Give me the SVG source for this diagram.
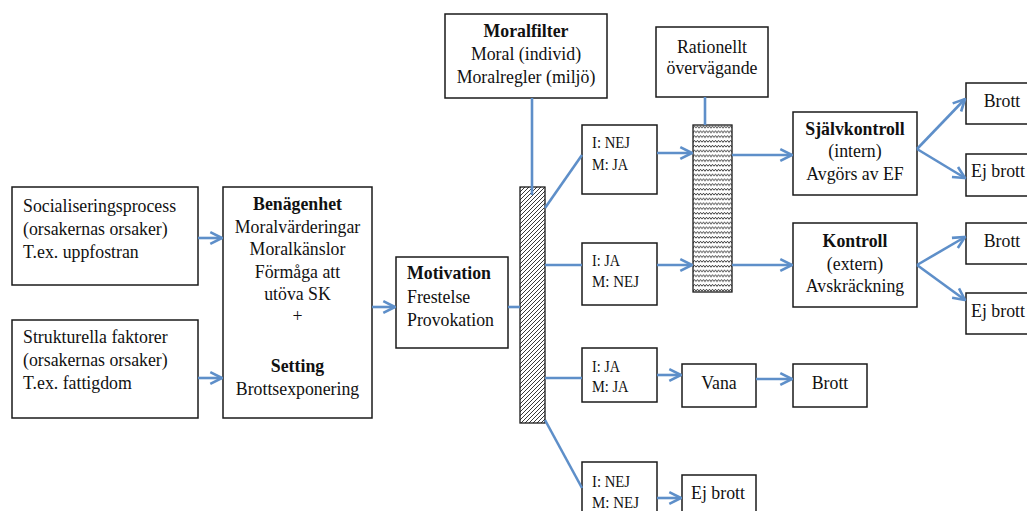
<svg xmlns="http://www.w3.org/2000/svg" width="1027" height="511" viewBox="0 0 1027 511">
<style>
.box{fill:#fff;stroke:#1a1a1a;stroke-width:1.5}
text{font-family:"Liberation Serif","Times New Roman",serif;font-size:17.8px;fill:#111}
.c{text-anchor:middle}
.b{font-weight:bold}
.s{font-size:16.5px}
.con{fill:none;stroke:#5E8FC9;stroke-width:2.6}
.arr{marker-end:url(#ah)}
</style>
<defs>
<marker id="ah" viewBox="0 0 12 12" refX="11" refY="6" markerWidth="6" markerHeight="6" markerUnits="strokeWidth" orient="auto">
<path d="M2,1.5 L11,6 L2,10.5" fill="none" stroke="#5E8FC9" stroke-width="2"/>
</marker>
<pattern id="hatch" patternUnits="userSpaceOnUse" width="4" height="4">
<rect width="4" height="4" fill="#fff"/>
<path d="M-1,1 L1,-1 M0,4 L4,0 M3,5 L5,3" stroke="#222" stroke-width="0.9"/>
</pattern>
<pattern id="zig" patternUnits="userSpaceOnUse" width="6" height="4.8">
<rect width="6" height="4.8" fill="#fff"/>
<path d="M0,3.2 L1.5,1.2 L3,3.2 L4.5,1.2 L6,3.2" fill="none" stroke="#222" stroke-width="0.9"/>
</pattern>
</defs>

<g id="nodes">
<g id="socialisering">
<rect class="box" x="12" y="187" width="186" height="98"/>
<text x="23" y="212">Socialiseringsprocess</text>
<text x="23" y="235">(orsakernas orsaker)</text>
<text x="23" y="258">T.ex. uppfostran</text>
</g>
<g id="strukturella">
<rect class="box" x="12" y="320" width="186" height="98"/>
<text x="23" y="343">Strukturella faktorer</text>
<text x="23" y="366">(orsakernas orsaker)</text>
<text x="23" y="389">T.ex. fattigdom</text>
</g>
<g id="benagenhet">
<rect class="box" x="223" y="187" width="149" height="231"/>
<text class="c b" x="297.5" y="210">Benägenhet</text>
<text class="c" x="297.5" y="233">Moralvärderingar</text>
<text class="c" x="297.5" y="255">Moralkänslor</text>
<text class="c" x="297.5" y="278">Förmåga att</text>
<text class="c" x="297.5" y="300">utöva SK</text>
<text class="c" x="297.5" y="322">+</text>
<text class="c b" x="297.5" y="372">Setting</text>
<text class="c" x="297.5" y="395">Brottsexponering</text>
</g>
<g id="motivation">
<rect class="box" x="396" y="257" width="112" height="91"/>
<text class="b" x="407" y="279">Motivation</text>
<text x="407" y="303">Frestelse</text>
<text x="407" y="326">Provokation</text>
</g>
<g id="moralfilter">
<rect class="box" x="445" y="14" width="162" height="84"/>
<text class="c b" x="526" y="37">Moralfilter</text>
<text class="c" x="526" y="60">Moral (individ)</text>
<text class="c" x="526" y="83">Moralregler (miljö)</text>
</g>
<g id="filterbar">
<rect x="520" y="187" width="25" height="236" fill="url(#hatch)" stroke="#1a1a1a" stroke-width="1.3"/>
</g>
<g id="rationellt">
<rect class="box" x="656" y="27" width="112" height="70"/>
<text class="c" x="712" y="53">Rationellt</text>
<text class="c" x="712" y="74">övervägande</text>
</g>
<g id="rationellbar">
<rect x="693" y="125" width="39" height="167" fill="url(#zig)" stroke="#1a1a1a" stroke-width="1.3"/>
</g>
<g id="nej-ja">
<rect class="box" x="582" y="125" width="75" height="69"/>
<text class="s" x="592" y="148" textLength="38" lengthAdjust="spacingAndGlyphs">I: NEJ</text>
<text class="s" x="592" y="170" textLength="36" lengthAdjust="spacingAndGlyphs">M: JA</text>
</g>
<g id="ja-nej">
<rect class="box" x="582" y="243" width="75" height="62"/>
<text class="s" x="592" y="266" textLength="28" lengthAdjust="spacingAndGlyphs">I: JA</text>
<text class="s" x="592" y="287" textLength="47" lengthAdjust="spacingAndGlyphs">M: NEJ</text>
</g>
<g id="ja-ja">
<rect class="box" x="582" y="348" width="75" height="54"/>
<text class="s" x="592" y="372" textLength="28" lengthAdjust="spacingAndGlyphs">I: JA</text>
<text class="s" x="592" y="392" textLength="36.5" lengthAdjust="spacingAndGlyphs">M: JA</text>
</g>
<g id="nej-nej">
<rect class="box" x="582" y="462" width="75" height="60"/>
<text class="s" x="592" y="487" textLength="38" lengthAdjust="spacingAndGlyphs">I: NEJ</text>
<text class="s" x="592" y="508" textLength="47" lengthAdjust="spacingAndGlyphs">M: NEJ</text>
</g>
<g id="vana">
<rect class="box" x="682" y="364" width="74" height="43"/>
<text class="c" x="719" y="389">Vana</text>
</g>
<g id="brott-vana">
<rect class="box" x="793" y="364" width="74" height="43"/>
<text class="c" x="830" y="389">Brott</text>
</g>
<g id="ejbrott-bottom">
<rect class="box" x="682" y="475" width="74" height="50"/>
<text class="c" x="718" y="499">Ej brott</text>
</g>
<g id="sjalvkontroll">
<rect class="box" x="793" y="112" width="124" height="83"/>
<text class="c b" x="855" y="135">Självkontroll</text>
<text class="c" x="855" y="157">(intern)</text>
<text class="c" x="855" y="180">Avgörs av EF</text>
</g>
<g id="kontroll">
<rect class="box" x="793" y="223" width="124" height="84"/>
<text class="c b" x="855" y="247">Kontroll</text>
<text class="c" x="855" y="270">(extern)</text>
<text class="c" x="855" y="292">Avskräckning</text>
</g>
<g id="brott1">
<rect class="box" x="966" y="83" width="74" height="41"/>
<text class="c" x="1002" y="107">Brott</text>
</g>
<g id="ejbrott1">
<rect class="box" x="966" y="154" width="74" height="42"/>
<text class="c" x="998" y="177">Ej brott</text>
</g>
<g id="brott2">
<rect class="box" x="966" y="223" width="74" height="41"/>
<text class="c" x="1002" y="247">Brott</text>
</g>
<g id="ejbrott2">
<rect class="box" x="966" y="293" width="74" height="41"/>
<text class="c" x="998" y="317">Ej brott</text>
</g>
</g>

<g id="connectors">
<line class="con arr" x1="198" y1="238" x2="222" y2="238"/>
<line class="con arr" x1="198" y1="378" x2="222" y2="378"/>
<line class="con arr" x1="372" y1="307" x2="395" y2="307"/>
<line class="con" x1="508" y1="307" x2="520" y2="307"/>
<line class="con" x1="532" y1="98" x2="532" y2="195"/>
<line class="con" x1="545" y1="208" x2="582" y2="155"/>
<line class="con" x1="545" y1="265" x2="582" y2="265"/>
<line class="con" x1="545" y1="378" x2="582" y2="378"/>
<line class="con" x1="545" y1="420" x2="582" y2="488"/>
<line class="con arr" x1="657" y1="153" x2="692" y2="153"/>
<line class="con arr" x1="657" y1="265" x2="692" y2="265"/>
<line class="con" x1="705" y1="97" x2="705" y2="125"/>
<line class="con arr" x1="732" y1="155" x2="792" y2="155"/>
<line class="con arr" x1="732" y1="265" x2="792" y2="265"/>
<line class="con arr" x1="917" y1="149" x2="965" y2="99"/>
<line class="con arr" x1="917" y1="149" x2="965" y2="178"/>
<line class="con arr" x1="917" y1="265" x2="965" y2="237"/>
<line class="con arr" x1="917" y1="265" x2="965" y2="300"/>
<line class="con arr" x1="657" y1="375" x2="681" y2="375"/>
<line class="con arr" x1="756" y1="379" x2="792" y2="379"/>
<line class="con arr" x1="657" y1="498" x2="681" y2="498"/>
</g>
</svg>
